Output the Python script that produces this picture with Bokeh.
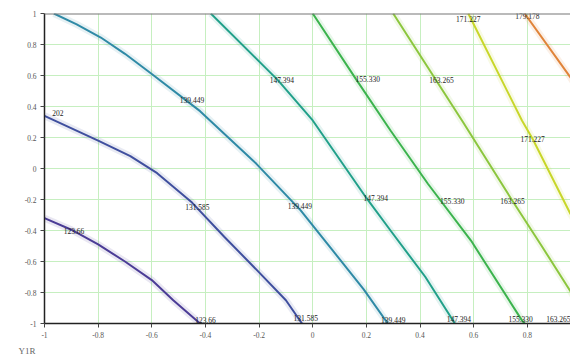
from bokeh.plotting import figure
from bokeh.models import Range1d, FixedTicker, Span, Title, ColumnDataSource
from bokeh.core.properties import value
from bokeh.embed import file_html
from bokeh.resources import INLINE

# contour levels and their polylines
levels = ["123.66", "131.585", "139.449", "147.394", "155.330", "163.265", "171.227", "179.178"]
colors = ["#4b3c96", "#3f4f9e", "#2f8aa6", "#22a08a", "#3cb34e", "#8cc63e", "#c8d62a", "#e0843a"]

l1_x = [-1.0, -0.90, -0.80, -0.70, -0.60, -0.52, -0.42]
l1_y = [-0.32, -0.395, -0.49, -0.60, -0.72, -0.85, -1.0]
l2_x = [-1.0, -0.8, -0.68, -0.58, -0.45, -0.33, -0.2, -0.1, -0.04]
l2_y = [0.34, 0.18, 0.08, -0.03, -0.22, -0.44, -0.67, -0.85, -1.0]
l3_x = [-0.965, -0.88, -0.79, -0.70, -0.60, -0.42, -0.21, -0.045, 0.075, 0.19, 0.28]
l3_y = [1.0, 0.93, 0.845, 0.74, 0.61, 0.37, 0.03, -0.27, -0.53, -0.78, -1.0]
l4_x = [-0.38, -0.13, 0.0, 0.2, 0.29, 0.42, 0.53]
l4_y = [1.0, 0.57, 0.31, -0.19, -0.40, -0.70, -1.0]
l5_x = [0.0, 0.16, 0.29, 0.43, 0.59, 0.78, 0.79]
l5_y = [1.0, 0.58, 0.245, -0.1, -0.465, -0.98, -1.0]
l6_x = [0.30, 0.43, 0.56, 0.745, 0.85, 0.96, 1.0]
l6_y = [1.0, 0.65, 0.30, -0.21, -0.49, -0.79, -0.90]
l7_x = [0.58, 0.78, 0.82, 0.96, 1.0]
l7_y = [1.0, 0.31, 0.19, -0.29, -0.40]
l8_x = [0.79, 0.96, 1.0]
l8_y = [1.0, 0.59, 0.48]

line_xs = [l1_x, l2_x, l3_x, l4_x, l5_x, l6_x, l7_x, l8_x]
line_ys = [l1_y, l2_y, l3_y, l4_y, l5_y, l6_y, l7_y, l8_y]

# contour labels
lab_text = ["202", "123.66", "123.66", "131.585", "131.585", "139.449", "139.449", "139.449",
            "147.394", "147.394", "147.394", "155.330", "155.330", "155.330",
            "163.265", "163.265", "171.227", "171.227", "179.178"]
lab_x = [-0.95, -0.89, -0.40, -0.43, -0.026, -0.45, -0.048, 0.30,
         -0.115, 0.235, 0.545, 0.205, 0.52, 0.775,
         0.48, 0.745, 0.58, 0.82, 0.80]
lab_y = [0.355, -0.40, -0.975, -0.25, -0.965, 0.44, -0.24, -0.975,
         0.57, -0.19, -0.97, 0.58, -0.21, -0.97,
         0.57, -0.21, 0.965, 0.19, 0.985]
edge_label = "163.265"
edge_label_x = 0.961
edge_label_y = -0.97

x_ticks = [-1, -0.8, -0.6, -0.4, -0.2, 0, 0.2, 0.4, 0.6, 0.8]
x_tick_labels = ["-1", "-0.8", "-0.6", "-0.4", "-0.2", "0", "0.2", "0.4", "0.6", "0.8"]
y_ticks = [-1, -0.8, -0.6, -0.4, -0.2, 0, 0.2, 0.4, 0.6, 0.8, 1]
y_tick_labels = ["-1", "-0.8", "-0.6", "-0.4", "-0.2", "0", "0.2", "0.4", "0.6", "0.8", "1"]

p = figure(width=570, height=362, output_backend="svg", toolbar_location=None,
           x_range=Range1d(-1, 0.961), y_range=Range1d(-1, 1),
           min_border_left=44, min_border_right=0, min_border_top=13, min_border_bottom=39)
p.outline_line_color = None
p.background_fill_color = "white"

for ax, ticks, labs in ((p.xaxis[0], x_ticks, x_tick_labels), (p.yaxis[0], y_ticks, y_tick_labels)):
    ax.ticker = FixedTicker(ticks=ticks)
    ax.major_label_overrides = {t: s for t, s in zip(ticks, labs)}
    ax.axis_line_color = "#222222"
    ax.axis_line_width = 1.5
    ax.major_tick_line_color = "#444444"
    ax.major_tick_out = 4
    ax.major_tick_in = 0
    ax.minor_tick_line_color = None
    ax.major_label_text_font = "Liberation Serif"
    ax.major_label_text_font_size = "7.5px"
    ax.major_label_text_color = "#555555"
    ax.major_label_standoff = 4

p.xgrid.grid_line_color = "#c6efc0"
p.ygrid.grid_line_color = "#c6efc0"
p.xgrid.grid_line_width = 1
p.ygrid.grid_line_width = 1

p.add_layout(Span(location=1, dimension="width", line_color="#777777", line_width=2))

for xs, ys, c in zip(line_xs, line_ys, colors):
    p.line(xs, ys, line_color=c, line_width=7, line_alpha=0.12)
    p.line(xs, ys, line_color=c, line_width=2)

src = ColumnDataSource(dict(x=lab_x, y=lab_y, t=lab_text))
p.text(x="x", y="y", text="t", source=src, text_font=value("Liberation Serif"),
       text_font_size="7.5px", text_color="#222222", text_align="center",
       text_baseline="middle")
p.text(x=[edge_label_x], y=[edge_label_y], text=[edge_label], text_font=value("Liberation Serif"),
       text_font_size="7.5px", text_color="#222222", text_align="right",
       text_baseline="middle")

p.add_layout(Title(text="Y1R", align="left", offset=-26, standoff=6,
                   text_font="Liberation Serif", text_font_size="9px",
                   text_font_style="normal", text_color="#666666"), "below")

open("out.html", "w").write(file_html(p, INLINE))
